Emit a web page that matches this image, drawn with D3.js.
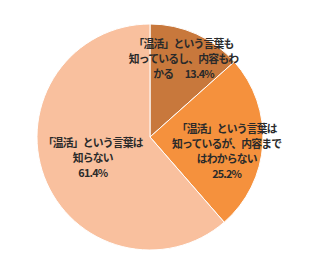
<!DOCTYPE html>
<html><head><meta charset="utf-8">
<script src="https://cdn.jsdelivr.net/npm/d3@7"></script>
<style>html,body{margin:0;padding:0;background:#fff;}</style>
</head><body>
<svg id="c" width="320" height="275"></svg>
<script>
const categories = ["「温活」という言葉も知っているし、内容もわかる", "「温活」という言葉は知っているが、内容まではわからない", "「温活」という言葉は知らない"];
const values = [13.4, 25.2, 61.4];
const colors = ["#c8783c", "#f5913d", "#f9c09e"];
const labelLines = [
  ["「温活」という言葉も", "知っているし、内容もわ", "かる　 13.4%"],
  ["「温活」という言葉は", "知っているが、内容まで", "はわからない", "25.2%"],
  ["「温活」という言葉は", "知らない", "61.4%"]
];

const svg = d3.select("#c");
const cx = 150, cy = 137, r = 113;
const g = svg.append("g").attr("transform", `translate(${cx},${cy})`);
const pie = d3.pie().sort(null).value(d => d);
const arcs = pie(values);
const arc = d3.arc().innerRadius(0).outerRadius(r);

g.selectAll("path").data(arcs).join("path")
  .attr("d", arc)
  .attr("fill", (d, i) => colors[i])
  .attr("stroke", "#fff")
  .attr("stroke-width", 1);

const labelFactor = [1.45, 1.36, 1.08];
const labelDy = [-3, 10, 0];
const lineH = 15;
arcs.forEach((a, i) => {
  const la = d3.arc().innerRadius(0).outerRadius(r * labelFactor[i]);
  const c = la.centroid(a);
  const lines = labelLines[i];
  const t = g.append("text")
    .attr("text-anchor", "middle")
    .attr("font-family", "'Noto Sans CJK JP', sans-serif")
    .attr("font-size", 10.8)
    .attr("font-weight", 700)
    .attr("letter-spacing", -0.8)
    .attr("fill", "#2a2a2a");
  const y0 = c[1] + labelDy[i] - (lines.length - 1) * lineH / 2;
  lines.forEach((l, j) => {
    t.append("tspan").attr("x", c[0]).attr("y", y0 + j * lineH + 4).text(l);
  });
});
</script>
</body></html>
